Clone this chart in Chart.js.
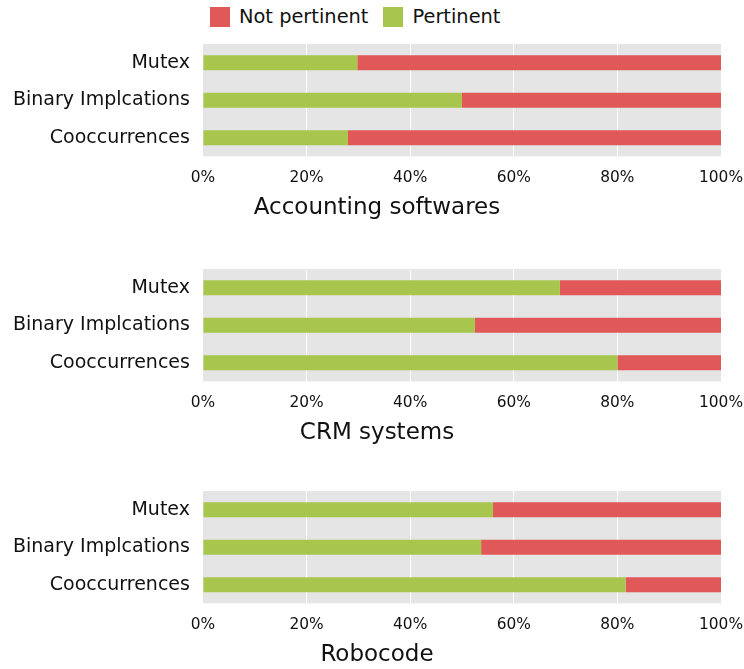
<!DOCTYPE html>
<html>
<head>
<meta charset="utf-8">
<script src="https://cdn.jsdelivr.net/npm/chart.js@4/dist/chart.umd.min.js"></script>
<style>
  body { margin: 0; background: #fff; font-family: 'DejaVu Sans', sans-serif; }
  #wrap { position: relative; width: 744px; height: 669px; overflow: hidden; }
  .panel { position: absolute; left: 0; width: 744px; height: 190px; }
  #legend { position: absolute; top: 6px; left: 210px; display: flex; align-items: center; font-size: 19.4px; line-height: 22px; color: #111; }
  #legend .item { display: flex; align-items: center; margin-right: 15px; }
  #legend .box { width: 20px; height: 20px; margin-right: 9px; }
</style>
</head>
<body>
<div id="wrap">
  <div id="legend"></div>
  <div class="panel" style="top:40px"><canvas id="chart-0"></canvas></div>
  <div class="panel" style="top:265px"><canvas id="chart-1"></canvas></div>
  <div class="panel" style="top:487px"><canvas id="chart-2"></canvas></div>
</div>
<script>
// ========================================
// Data
// ========================================
const categories = ['Mutex', 'Binary Implcations', 'Cooccurrences'];
const panelTitles = ['Accounting softwares', 'CRM systems', 'Robocode'];
const seriesNames = ['Pertinent', 'Not pertinent'];

// percent pertinent / not pertinent per panel (Mutex, Binary, Cooc)
const pertinentAccounting = [29.8, 50, 28];
const notPertinentAccounting = [70.2, 50, 72];
const pertinentCRM = [68.9, 52.5, 80];
const notPertinentCRM = [31.1, 47.5, 20];
const pertinentRobocode = [56, 53.7, 81.6];
const notPertinentRobocode = [44, 46.3, 18.4];

const xTicks = [0, 20, 40, 60, 80, 100];

const colors = {
    pertinent: '#a8c64e',
    notPertinent: '#e05858',
    panelBg: '#e5e5e5',
    grid: '#ffffff',
    text: '#111111'
};

Chart.defaults.font.family = "'DejaVu Sans', sans-serif";
Chart.defaults.color = colors.text;

// gray plot background
const plotBg = {
    id: 'plotBg',
    beforeDraw(chart) {
        const { ctx, chartArea: a } = chart;
        ctx.save();
        ctx.fillStyle = colors.panelBg;
        ctx.fillRect(a.left, a.top, a.right - a.left, a.bottom - a.top);
        ctx.restore();
    }
};

function createPanel(id, title, pertinent, notPertinent) {
    const ctx = document.getElementById(id);
    return new Chart(ctx, {
        type: 'bar',
        data: {
            labels: categories,
            datasets: [
                { label: seriesNames[0], data: pertinent, backgroundColor: colors.pertinent },
                { label: seriesNames[1], data: notPertinent, backgroundColor: colors.notPertinent }
            ]
        },
        options: {
            indexAxis: 'y',
            responsive: true,
            maintainAspectRatio: false,
            animation: false,
            // negative right padding widens the title box so the title centre lands at ~377px
            layout: { padding: { top: 4, right: -10, left: 0, bottom: 0 } },
            datasets: { bar: { barPercentage: 0.4, categoryPercentage: 1, borderWidth: 0 } },
            scales: {
                x: {
                    stacked: true,
                    min: 0,
                    max: 100,
                    border: { display: false },
                    grid: { color: colors.grid, lineWidth: 1, drawTicks: false, z: 0 },
                    afterBuildTicks: (s) => { s.ticks = xTicks.map(v => ({ value: v })); },
                    afterFit: (s) => { s.height = 30; s.paddingLeft = 0; s.paddingRight = 23; },
                    ticks: {
                        padding: 12,
                        font: { size: 15.4 },
                        color: colors.text,
                        callback: (v) => v + '%'
                    }
                },
                y: {
                    stacked: true,
                    border: { display: false },
                    grid: { display: false, drawTicks: false },
                    afterFit: (s) => { s.paddingTop = 0; s.paddingBottom = 0; },
                    ticks: { padding: 13, font: { size: 19 }, color: colors.text }
                }
            },
            plugins: {
                legend: { display: false },
                tooltip: { enabled: false },
                title: {
                    display: true,
                    text: title,
                    position: 'bottom',
                    font: { size: 23, weight: 'normal' },
                    color: colors.text,
                    padding: { top: 8, bottom: 8 }
                }
            }
        },
        plugins: [plotBg]
    });
}

// ========================================
// Legend (Not pertinent first, like the original)
// ========================================
function buildLegend() {
    const el = document.getElementById('legend');
    [[seriesNames[1], colors.notPertinent], [seriesNames[0], colors.pertinent]].forEach(([name, c]) => {
        const item = document.createElement('div');
        item.className = 'item';
        const box = document.createElement('div');
        box.className = 'box';
        box.style.background = c;
        const label = document.createElement('span');
        label.textContent = name;
        item.appendChild(box);
        item.appendChild(label);
        el.appendChild(item);
    });
}

buildLegend();
createPanel('chart-0', panelTitles[0], pertinentAccounting, notPertinentAccounting);
createPanel('chart-1', panelTitles[1], pertinentCRM, notPertinentCRM);
createPanel('chart-2', panelTitles[2], pertinentRobocode, notPertinentRobocode);
</script>
</body>
</html>
